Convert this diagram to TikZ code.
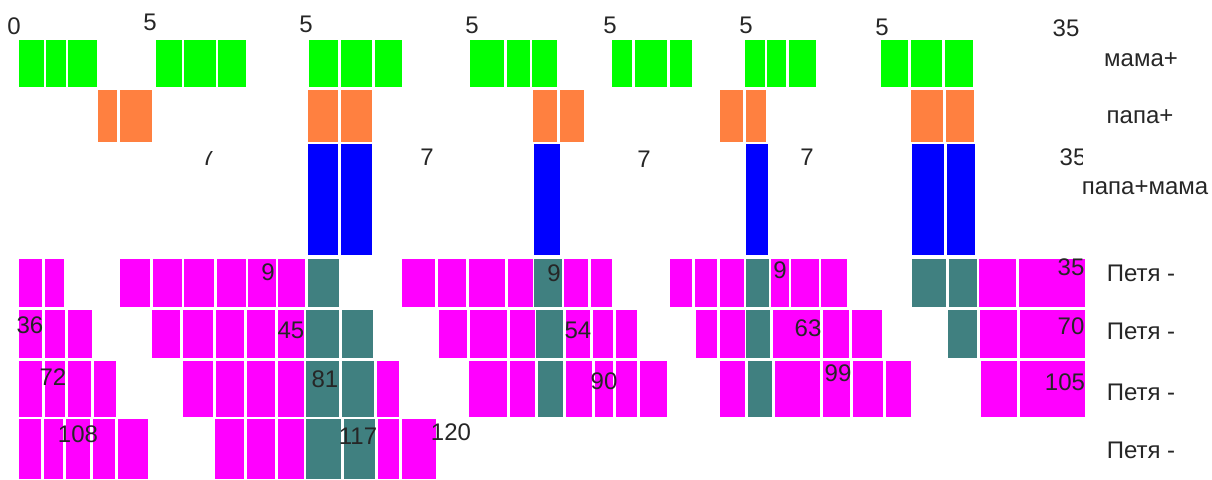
\documentclass[tikz,border=0pt]{standalone}
\usepackage{fontspec}
\setmainfont{Liberation Sans}
\usepackage{tikz}
\definecolor{cmama}{HTML}{00FF00}
\definecolor{cpapa}{HTML}{FF8040}
\definecolor{cboth}{HTML}{0000FF}
\definecolor{cpetya}{HTML}{FF00FF}
\definecolor{cmix}{HTML}{408080}
\tikzset{
  cell/.style={draw=white, line width=0.5pt},
  mama/.style={cell, fill=cmama},
  papa/.style={cell, fill=cpapa},
  both/.style={cell, fill=cboth},
  petya/.style={cell, fill=cpetya},
  mix/.style={cell, fill=cmix},
  num/.style={font=\fontsize{12}{14}\selectfont, inner sep=0pt, text=black!85},
  lbl/.style={num, anchor=center},
}
\begin{document}
\begin{tikzpicture}[x=0.5pt, y=-0.5pt]
  \useasboundingbox (0,0) rectangle (1212,479);
  % мама+
  \foreach \a/\b in {18/44,45/66,67/97,155/182,183/216,217/246,308/338,340/372,374/402,
      469/504,506/530,531/557,611/632,634/667,669/692,744/765,766/786,788/816,880/908,910/942,944/973}
    \draw[mama] (\a,39) rectangle (\b,87);
  % папа+
  \foreach \a/\b in {97/117,119/152,307/338,340/372,532/557,559/584,719/743,745/766,910/943,945/974}
    \draw[papa] (\a,89) rectangle (\b,142);
  % папа+мама
  \foreach \a/\b in {307/338,340/372,533/560,745/768,911/944,946/975}
    \draw[both] (\a,143) rectangle (\b,255);
  % Петя - (строка 1)
  \foreach \a/\b in {18/42,44/64,119/150,152/182,183/214,216/246,247/276,277/305,401/435,437/466,
      468/505,507/533,563/588,590/612,669/692,694/717,719/744,770/789,790/819,820/847,978/1016,1018/1085}
    \draw[petya] (\a,258) rectangle (\b,307);
  \foreach \a/\b in {307/339,533/562,745/769,911/946,948/977}
    \draw[mix] (\a,258) rectangle (\b,307);
  % Петя - (строка 2)
  \foreach \a/\b in {18/42,44/65,67/92,151/180,182/213,215/244,246/275,277/304,438/467,469/507,509/535,
      565/590,592/613,615/637,695/717,719/745,772/820,822/849,851/882,979/1017,1019/1085}
    \draw[petya] (\a,309) rectangle (\b,358);
  \foreach \a/\b in {305/339,341/373,535/563,745/770,947/977}
    \draw[mix] (\a,309) rectangle (\b,358);
  % Петя - (строка 3)
  \foreach \a/\b in {18/42,44/65,67/91,93/116,182/213,215/244,246/275,277/304,376/399,468/507,509/535,
      565/592,594/613,615/637,639/667,719/745,774/820,822/850,852/883,885/911,980/1017,1019/1085}
    \draw[petya] (\a,360) rectangle (\b,417);
  \foreach \a/\b in {305/339,341/374,537/563,747/772}
    \draw[mix] (\a,360) rectangle (\b,417);
  % Петя - (строка 4)
  \foreach \a/\b in {18/41,43/63,65/90,92/115,117/148,214/244,246/275,277/304,377/399,401/436}
    \draw[petya] (\a,418) rectangle (\b,479);
  \foreach \a/\b in {305/341,343/375}
    \draw[mix] (\a,418) rectangle (\b,479);
  % числа
  \node[num] (n0) at (14,26) {0};
  \foreach \x/\y [count=\i] in {150/22,306/24,472/25,610/25,746/25,882/27}
    \node[num] (f\i) at (\x,\y) {5};
  \node[num] (t35) at (1066,28) {35};
  \begin{scope}
    \clip (195,151) rectangle (222,170);
    \node[num] (s0) at (208,157) {7};
  \end{scope}
  \foreach \x/\y [count=\i] in {427/157,644/159,807/157}
    \node[num] (s\i) at (\x,\y) {7};
  \begin{scope}
    \clip (1055,145) rectangle (1082,170);
    \node[num] (m35) at (1073,157) {35};
  \end{scope}
  \foreach \x/\y/\t [count=\i] in {268/272/9,554/273/9,780/270/9,1071/267/35,
      30/325/36,291/330/45,578/330/54,808/328/63,1071/326/70,
      53/377/72,325/379/81,604/381/90,838/373/99,1065/382/105,
      78/434/108,358/436/117,451/432/120}
    \node[num] (p\i) at (\x,\y) {\t};
  % подписи
  \node[lbl] (lmama) at (1141,60) {мама+};
  \node[lbl] (lpapa) at (1140,117) {папа+};
  \node[lbl] (lboth) at (1145,188) {папа+мама};
  \foreach \y [count=\i] in {273,331,392,450}
    \node[lbl] (lpetya\i) at (1141,\y) {Петя -};
\end{tikzpicture}
\end{document}
